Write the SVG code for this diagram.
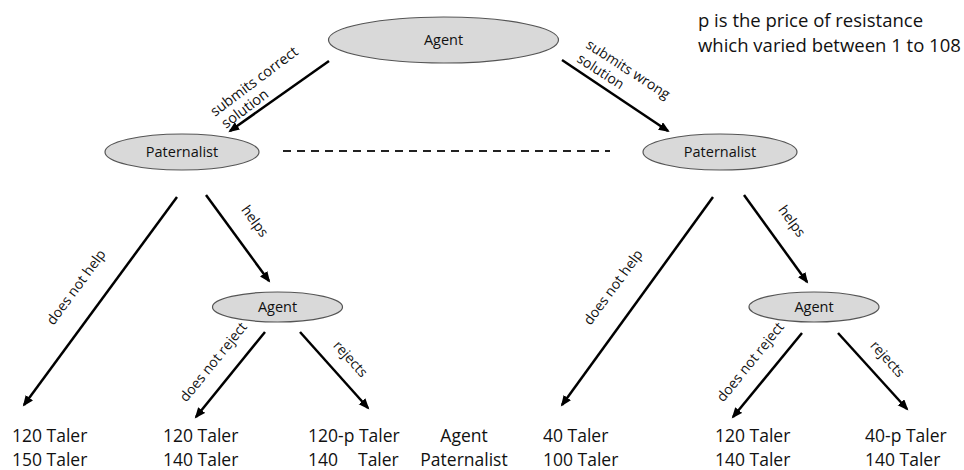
<svg xmlns="http://www.w3.org/2000/svg" width="964" height="470" viewBox="0 0 964 470">
<style>
.node ellipse{fill:#d9d9d9;stroke:#555;stroke-width:1.2}
.nt{font-family:"Open Sans","Liberation Sans",sans-serif;font-size:14.5px;fill:#111;text-anchor:middle}
.edge{stroke:#000;stroke-width:2.5;fill:none;marker-end:url(#ah)}
.lbl{font-family:"Open Sans","Liberation Sans",sans-serif;font-size:14px;fill:#111}
.pay{font-family:"Open Sans","Liberation Sans",sans-serif;font-size:17.5px;fill:#111}
.note{font-family:"Open Sans","Liberation Sans",sans-serif;font-size:18.5px;fill:#111}
</style>
<defs>
<marker id="ah" markerUnits="userSpaceOnUse" markerWidth="12" markerHeight="10" refX="9" refY="4.5" orient="auto">
<path d="M0,0 L11,4.5 L0,9 z" fill="#000"/>
</marker>
</defs>
<rect width="964" height="470" fill="#fff"/>
<g id="connectors">
<line class="edge" x1="329" y1="61" x2="230" y2="131"/>
<line class="edge" x1="562" y1="60" x2="668" y2="131"/>
<line x1="283" y1="151" x2="610" y2="151" stroke="#222" stroke-width="2" stroke-dasharray="8,6"/>
<line class="edge" x1="177" y1="197" x2="24" y2="405"/>
<line class="edge" x1="206" y1="195" x2="269" y2="281"/>
<line class="edge" x1="265" y1="332" x2="196" y2="417"/>
<line class="edge" x1="300" y1="332" x2="368" y2="408"/>
<line class="edge" x1="713" y1="197" x2="562" y2="405"/>
<line class="edge" x1="744" y1="195" x2="807" y2="282"/>
<line class="edge" x1="802" y1="333" x2="733" y2="417"/>
<line class="edge" x1="838" y1="333" x2="907" y2="409"/>
<g class="lbl">
<text transform="translate(215,117) rotate(-37)" font-size="14.5">submits correct</text>
<text transform="translate(226,129) rotate(-37)" font-size="14.5">solution</text>
<text transform="translate(585,47) rotate(33)">submits wrong</text>
<text transform="translate(576,61) rotate(33)">solution</text>
<text transform="translate(80,290) rotate(-53.7)" text-anchor="middle">does not help</text>
<text transform="translate(617,290) rotate(-53.7)" text-anchor="middle">does not help</text>
<text transform="translate(251,224) rotate(54)" text-anchor="middle">helps</text>
<text transform="translate(788,224) rotate(54)" text-anchor="middle">helps</text>
<text transform="translate(217,365) rotate(-51)" text-anchor="middle">does not reject</text>
<text transform="translate(754,365) rotate(-51)" text-anchor="middle">does not reject</text>
<text transform="translate(347,362) rotate(48)" text-anchor="middle">rejects</text>
<text transform="translate(884,362) rotate(48)" text-anchor="middle">rejects</text>
</g>
</g>
<g id="agent-root" class="node">
<ellipse cx="443.5" cy="40" rx="115" ry="23"/>
<text class="nt" x="443.5" y="45">Agent</text>
</g>
<g id="paternalist-left" class="node">
<ellipse cx="182" cy="152" rx="77" ry="18"/>
<text class="nt" x="182" y="157">Paternalist</text>
</g>
<g id="paternalist-right" class="node">
<ellipse cx="720" cy="152" rx="77" ry="18"/>
<text class="nt" x="720" y="157">Paternalist</text>
</g>
<g id="agent-left" class="node">
<ellipse cx="277.5" cy="307" rx="65" ry="15"/>
<text class="nt" x="277.5" y="312">Agent</text>
</g>
<g id="agent-right" class="node">
<ellipse cx="814" cy="307" rx="65" ry="15"/>
<text class="nt" x="814" y="312">Agent</text>
</g>
<g id="note">
<text class="note" x="698" y="27">p is the price of resistance</text>
<text class="note" x="698" y="52">which varied between 1 to 108</text>
</g>
<g id="payoffs" class="pay">
<text x="12" y="442">120 Taler</text>
<text x="12" y="466">150 Taler</text>
<text x="163" y="442">120 Taler</text>
<text x="163" y="466">140 Taler</text>
<text x="308" y="442">120-p Taler</text>
<text y="466"><tspan x="308">140</tspan><tspan x="358">Taler</tspan></text>
<text x="464" y="442" text-anchor="middle">Agent</text>
<text x="464" y="466" text-anchor="middle">Paternalist</text>
<text x="543" y="442">40 Taler</text>
<text x="543" y="466">100 Taler</text>
<text x="715" y="442">120 Taler</text>
<text x="715" y="466">140 Taler</text>
<text x="865" y="442">40-p Taler</text>
<text x="865" y="466">140 Taler</text>
</g>
</svg>
